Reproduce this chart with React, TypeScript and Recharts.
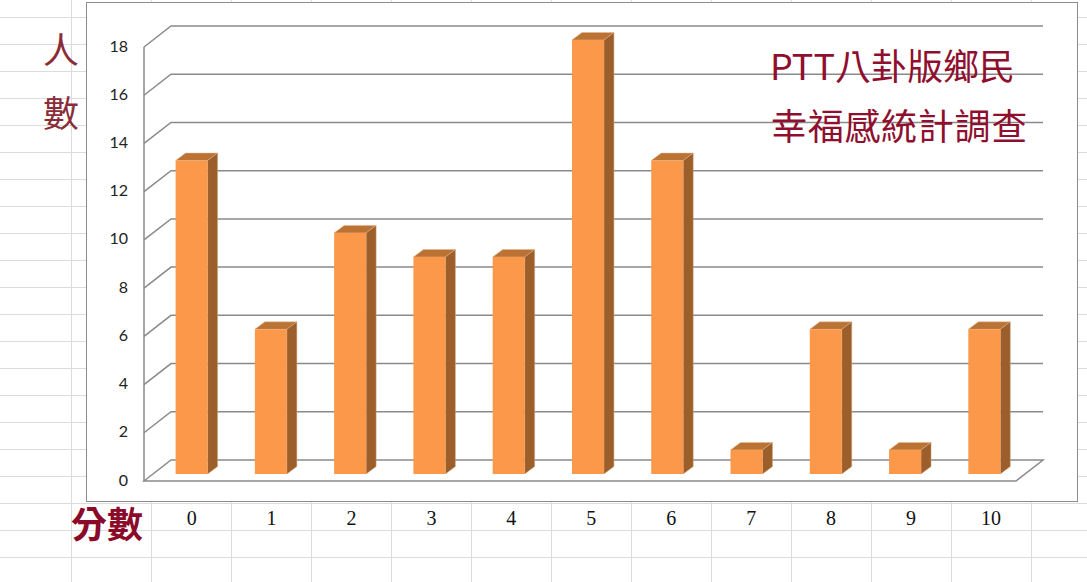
import React from "react";
import { ComposedChart, Bar, XAxis, YAxis, CartesianGrid } from "recharts";

const scores = ["0", "1", "2", "3", "4", "5", "6", "7", "8", "9", "10"];
const people = [13, 6, 10, 9, 9, 18, 13, 1, 6, 1, 6];
const yTicks = [0, 2, 4, 6, 8, 10, 12, 14, 16, 18];
const titleLines = ["PTT八卦版鄉民", "幸福感統計調查"];
const data = scores.map((score, i) => ({ score, people: people[i] }));

const WALL_DX = 27;
const WALL_DY = 21;
const BAR_DX = 7.6;
const BAR_DY = 7;
const SIDE_DX = 10;
const SIDE_DY = 7.5;
const LINE = "#8a8a8a";

const gridLine = (props: any) => {
  const { x1, x2, y1, index } = props;
  const isFloor = Math.abs(y1 - 480.5) < 1.5;
  const d = isFloor
    ? `M${x1},${y1} L${x1 + WALL_DX},${y1 - WALL_DY} L${x2 + WALL_DX},${y1 - WALL_DY} L${x2},${y1} Z`
    : `M${x1},${y1} L${x1 + WALL_DX},${y1 - WALL_DY} L${x2 + WALL_DX},${y1 - WALL_DY}`;
  return <path key={`g${index}`} d={d} fill="none" stroke={LINE} strokeWidth={1.5} />;
};

const Bar3D = (props: any) => {
  const { x, y, width, height } = props;
  const l = x + BAR_DX;
  const t = y - BAR_DY;
  const r = l + width;
  const b = t + height;
  return (
    <g>
      <path
        d={`M${l},${t} L${l + SIDE_DX},${t - SIDE_DY} L${r + SIDE_DX},${t - SIDE_DY} L${r},${t} Z`}
        fill="#BA7235"
        stroke="#E9B98C"
        strokeWidth={0.5}
      />
      <path
        d={`M${r},${t} L${r + SIDE_DX},${t - SIDE_DY} L${r + SIDE_DX},${b - SIDE_DY} L${r},${b} Z`}
        fill="#9C5E2B"
        stroke="#D9AE88"
        strokeWidth={0.5}
      />
      <rect x={l} y={t} width={width} height={height} fill="#FB9849" />
    </g>
  );
};

const CellTick = (props: any) => {
  const { x, y, payload, index } = props;
  return (
    <text
      x={x + 8 + index * 0.66}
      y={y + 36}
      textAnchor="middle"
      fontFamily="'Liberation Serif', serif"
      fontSize={20}
      fill="#111"
    >
      {payload.value}
    </text>
  );
};

const ValueTick = (props: any) => {
  const { x, y, payload } = props;
  return (
    <text
      x={x}
      y={y + 4.5}
      textAnchor="end"
      fontFamily="Lato, sans-serif"
      fontSize={16}
      fill="#222"
    >
      {payload.value}
    </text>
  );
};

const label = (
  text: string,
  left: number,
  top: number,
  size: number,
  color: string,
  weight: number = 400,
  spacing: number = 0
) => (
  <div
    key={text}
    style={{
      position: "absolute",
      left,
      top,
      fontFamily: "'Noto Sans CJK TC', sans-serif",
      fontSize: size,
      lineHeight: `${size}px`,
      letterSpacing: spacing,
      color,
      fontWeight: weight,
      whiteSpace: "nowrap",
    }}
  >
    {text}
  </div>
);

export default function App() {
  return (
    <div
      style={{
        position: "absolute",
        left: 0,
        top: 0,
        width: 1087,
        height: 582,
        overflow: "hidden",
        backgroundColor: "#fff",
        backgroundImage:
          "linear-gradient(to right,#dcdcdc 1px,transparent 1px),linear-gradient(to bottom,#dcdcdc 1px,transparent 1px)",
        backgroundSize: "80px 27px",
        backgroundPosition: "71px 17px",
      }}
    >
      <div
        style={{
          position: "absolute",
          left: 86,
          top: 2,
          width: 990,
          height: 498,
          background: "#fff",
          border: "1px solid #8c8c8c",
        }}
      />
      <div style={{ position: "absolute", left: 0, top: 0.5 }}>
        <ComposedChart
          width={1087}
          height={582}
          data={data}
          margin={{ top: 46, right: 71, bottom: 72, left: 84 }}
          barSize={32}
        >
          <CartesianGrid vertical={false} horizontal={gridLine} />
          <XAxis
            dataKey="score"
            axisLine={false}
            tickLine={false}
            height={30}
            interval={0}
            tick={<CellTick />}
          />
          <YAxis
            width={60}
            domain={[0, 18]}
            ticks={yTicks}
            interval={0}
            axisLine={{ stroke: LINE, strokeWidth: 1.5 }}
            tickLine={false}
            tickMargin={10}
            tick={<ValueTick />}
          />
          <Bar dataKey="people" shape={<Bar3D />} isAnimationActive={false} />
        </ComposedChart>
      </div>
      {label("人", 43, 30, 36, "#8B2D38")}
      {label("數", 43, 93, 36, "#8B2D38")}
      {label("分數", 71, 504, 36, "#8B0A2A", 700)}
      {label(titleLines[0], 770, 46, 36, "#8F0F2E")}
      {label(titleLines[1], 771, 106, 36, "#8F0F2E", 400, 0.7)}
    </div>
  );
}
